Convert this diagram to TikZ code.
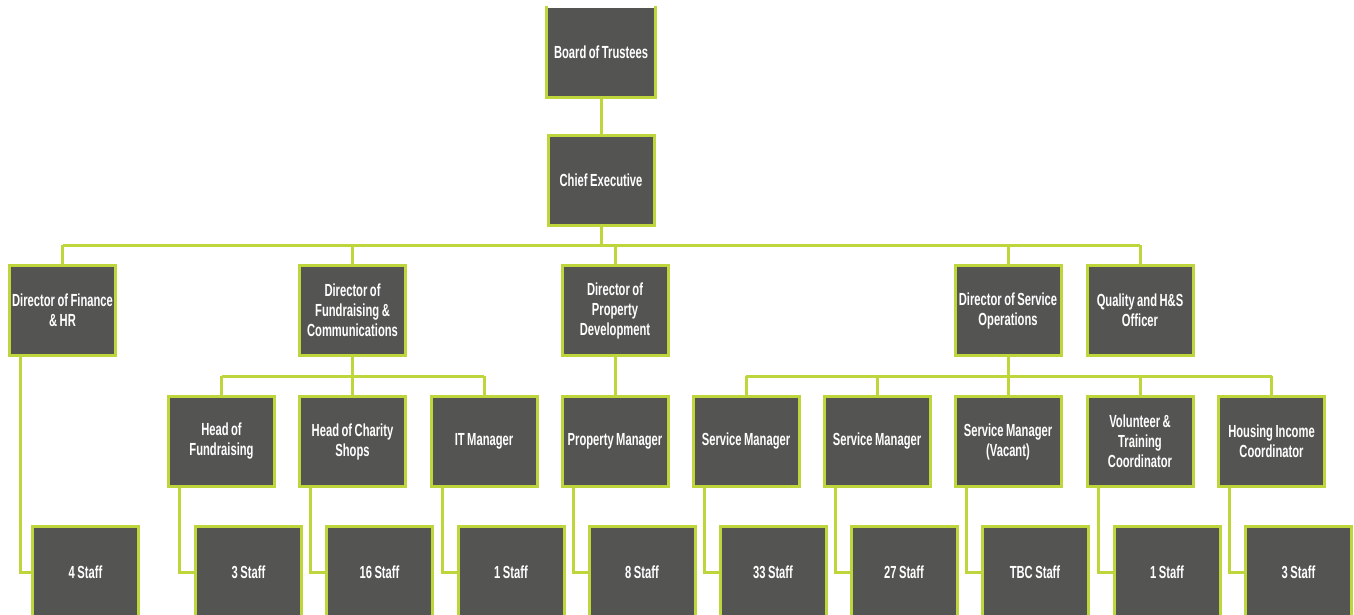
\documentclass[tikz,border=0pt]{standalone}
\usepackage{fontspec}
\setmainfont{Liberation Sans}[FakeStretch=0.64,WordSpace=0.8]
\definecolor{boxfill}{RGB}{84,84,82}
\definecolor{lime}{RGB}{190,213,60}
\begin{document}
\begin{tikzpicture}[x=1pt,y=-1pt,
  box/.style={fill=boxfill,draw=lime,line width=3pt,minimum height=90pt,
    minimum width=106pt,inner sep=0pt,align=center,text=white,
    font=\fontsize{17.5}{20}\selectfont\bfseries},
  staffbox/.style={box,minimum height=91pt},
  link/.style={draw=lime,line width=3pt}]
\useasboundingbox (0,0) rectangle (1354,615);
\clip (0,0) rectangle (1354,615);
% connectors
\coordinate (busA) at (62.5,245);
\coordinate (busB) at (1140,245);
\coordinate (busF1) at (221.5,376);
\coordinate (busF2) at (484,376);
\coordinate (busS1) at (746,376);
\coordinate (busS2) at (1271.5,376);
% level 0/1
\node[box,draw=none,minimum height=88pt] (bt) at (601,52) {Board of Trustees};
\draw[link] (bt.north west) -- (bt.south west) -- (bt.south east) -- (bt.north east);
\node[box] (ce) at (601,180.5) {Chief Executive};
% level 2
\node[box] (dfin) at (62.5,310.5) {Director of Finance\\ \& HR};
\node[box] (dfun) at (352.5,310.5) {Director of\\ Fundraising \&\\ Communications};
\node[box] (dpro) at (615,310.5) {Director of\\ Property\\ Development};
\node[box] (dser) at (1008,310.5) {Director of Service\\ Operations};
\node[box] (qhs) at (1140,310.5) {Quality and H\&S\\ Officer};
% level 3
\node[box] (hof) at (221.5,441.5) {Head of\\ Fundraising};
\node[box] (hcs) at (352.5,441.5) {Head of Charity\\ Shops};
\node[box] (itm) at (484,441.5) {IT Manager};
\node[box] (pm) at (615,441.5) {Property Manager};
\node[box] (sm1) at (746,441.5) {Service Manager};
\node[box] (sm2) at (877,441.5) {Service Manager};
\node[box] (smv) at (1008,441.5) {Service Manager\\ (Vacant)};
\node[box] (vol) at (1140,441.5) {Volunteer \&\\ Training\\ Coordinator};
\node[box] (hic) at (1271.5,441.5) {Housing Income\\ Coordinator};
% staff
\node[staffbox] (s0) at (85.5,572) {4 Staff};
\node[staffbox] (s1) at (248.5,572) {3 Staff};
\node[staffbox] (s2) at (379.5,572) {16 Staff};
\node[staffbox] (s3) at (511,572) {1 Staff};
\node[staffbox] (s4) at (642,572) {8 Staff};
\node[staffbox] (s5) at (773,572) {33 Staff};
\node[staffbox] (s6) at (904,572) {27 Staff};
\node[staffbox] (s7) at (1035,572) {TBC Staff};
\node[staffbox] (s8) at (1167,572) {1 Staff};
\node[staffbox] (s9) at (1298.5,572) {3 Staff};
% links
\draw[link] (bt.south) -- (ce.north);
\draw[link] (busA) -- (busB);
\draw[link] (ce.south) -- (ce.south |- busA);
\foreach \n in {dfin,dfun,dpro,dser,qhs}{\draw[link] (\n.north |- busA) -- (\n.north);}
\draw[link] (busF1) -- (busF2);
\draw[link] (dfun.south) -- (dfun.south |- busF1);
\foreach \n in {hof,hcs,itm}{\draw[link] (\n.north |- busF1) -- (\n.north);}
\draw[link] (dpro.south) -- (pm.north);
\draw[link] (busS1) -- (busS2);
\draw[link] (dser.south) -- (dser.south |- busS1);
\foreach \n in {sm1,sm2,smv,vol,hic}{\draw[link] (\n.north |- busS1) -- (\n.north);}
\draw[link] ([xshift=-42pt]dfin.south) |- (s0.west);
\draw[link] ([xshift=-42pt]hof.south) |- (s1.west);
\draw[link] ([xshift=-42pt]hcs.south) |- (s2.west);
\draw[link] ([xshift=-42pt]itm.south) |- (s3.west);
\draw[link] ([xshift=-42pt]pm.south) |- (s4.west);
\draw[link] ([xshift=-42pt]sm1.south) |- (s5.west);
\draw[link] ([xshift=-42pt]sm2.south) |- (s6.west);
\draw[link] ([xshift=-42pt]smv.south) |- (s7.west);
\draw[link] ([xshift=-42pt]vol.south) |- (s8.west);
\draw[link] ([xshift=-42pt]hic.south) |- (s9.west);
\end{tikzpicture}
\end{document}
